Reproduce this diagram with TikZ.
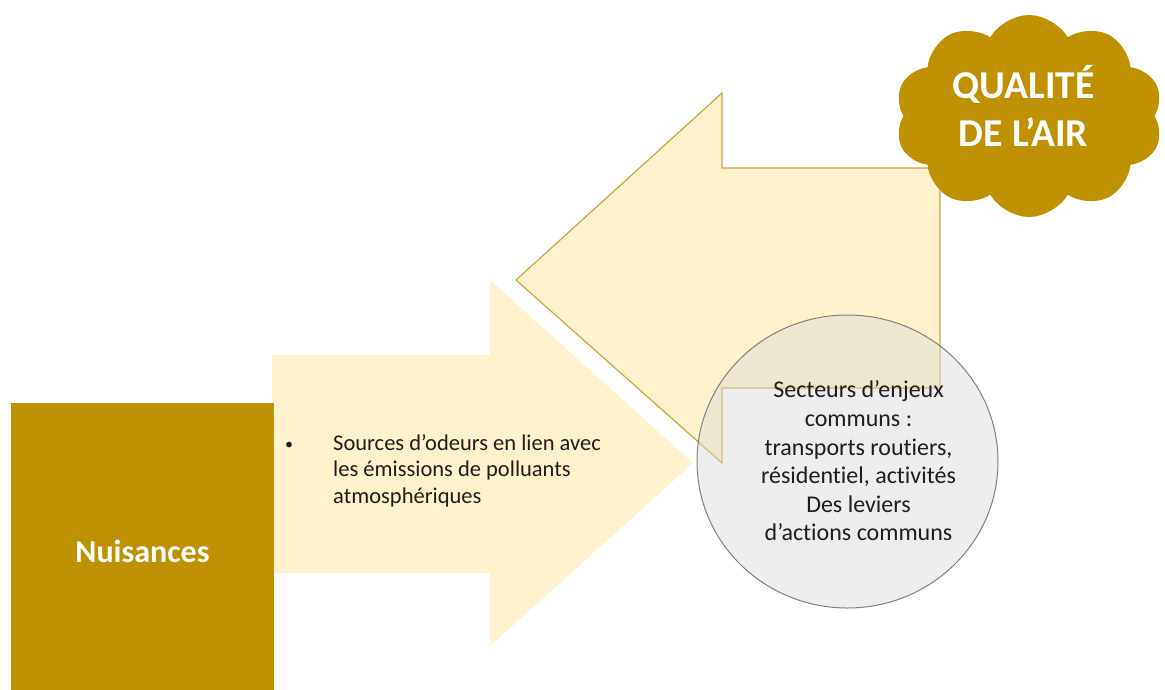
\documentclass[tikz,border=0pt]{standalone}
\usepackage{fontspec}
\setmainfont{Carlito}[Ligatures={NoCommon,NoContextual}]
\usetikzlibrary{shapes.symbols,shapes.geometric}
\definecolor{gold}{RGB}{191,144,0}
\definecolor{cream}{RGB}{255,242,204}
\definecolor{arrowline}{RGB}{201,166,60}
\definecolor{circfill}{RGB}{217,217,217}
\definecolor{circline}{RGB}{128,128,128}
\definecolor{txt}{RGB}{30,30,30}
\begin{document}
\begin{tikzpicture}[x=1pt,y=-1pt,
  creamarrow/.style={fill=cream},
  outlinedarrow/.style={fill=cream,draw=arrowline,line width=1.2pt,line join=miter},
  goldbox/.style={rectangle,fill=gold,inner sep=0pt,text=white,
    font=\fontsize{32}{38}\selectfont\bfseries},
  goldcloud/.style={cloud,cloud puffs=10,cloud puff arc=120,aspect=1.35,
    fill=gold,inner sep=0pt},
  cloudtext/.style={text=white,align=center,inner sep=0pt,
    font=\fontsize{39.5}{48}\selectfont\bfseries},
  bubble/.style={ellipse,fill=circfill,fill opacity=0.45,draw=circline,
    draw opacity=1,line width=1pt,inner sep=0pt},
  bubbletext/.style={text=txt,align=center,inner sep=0pt,
    font=\fontsize{24}{28.6}\selectfont},
  srctext/.style={text=txt,inner sep=0pt,anchor=north west,
    font=\fontsize{22.5}{26.5}\selectfont}]
\useasboundingbox[fill=white] (0,0) rectangle (1165,689);
% right-pointing arrow
\fill[creamarrow] (272,355) -- (490,355) -- (490,280) -- (693,463)
  -- (490,646) -- (490,573) -- (272,573) -- cycle;
% left-pointing arrow
\filldraw[outlinedarrow] (516,280) -- (722,93) -- (722,168) -- (940,168)
  -- (940,388) -- (722,388) -- (722,463) -- cycle;
% left box
\node[goldbox,minimum width=263pt,minimum height=296pt] (nuis) at (142.5,551) {Nuisances};
% bullet text
\node[srctext] (src) at (285,431.5) {\begin{tabular}{@{}l@{}l@{}}
\makebox[48pt][l]{\fontsize{16}{16}\selectfont\raisebox{1pt}{•}} & Sources d’odeurs en lien avec\\
 & les émissions de polluants\\
 & atmosphériques
\end{tabular}};
% circle
\node[bubble,minimum width=301pt,minimum height=293pt] (circ) at (847.5,461.5) {};
\node[bubbletext] (sect) at (858.5,461) {Secteurs d’enjeux\\ communs :\\ transports routiers,\\ résidentiel, activités\\ Des leviers\\ d’actions communs};
% cloud
\node[goldcloud,minimum width=268pt,minimum height=202pt] (cloud) at (1029,116) {};
\node[cloudtext] (cloudtxt) at (1023.5,106) {QUALITÉ\\ DE L’AIR};
\end{tikzpicture}
\end{document}
